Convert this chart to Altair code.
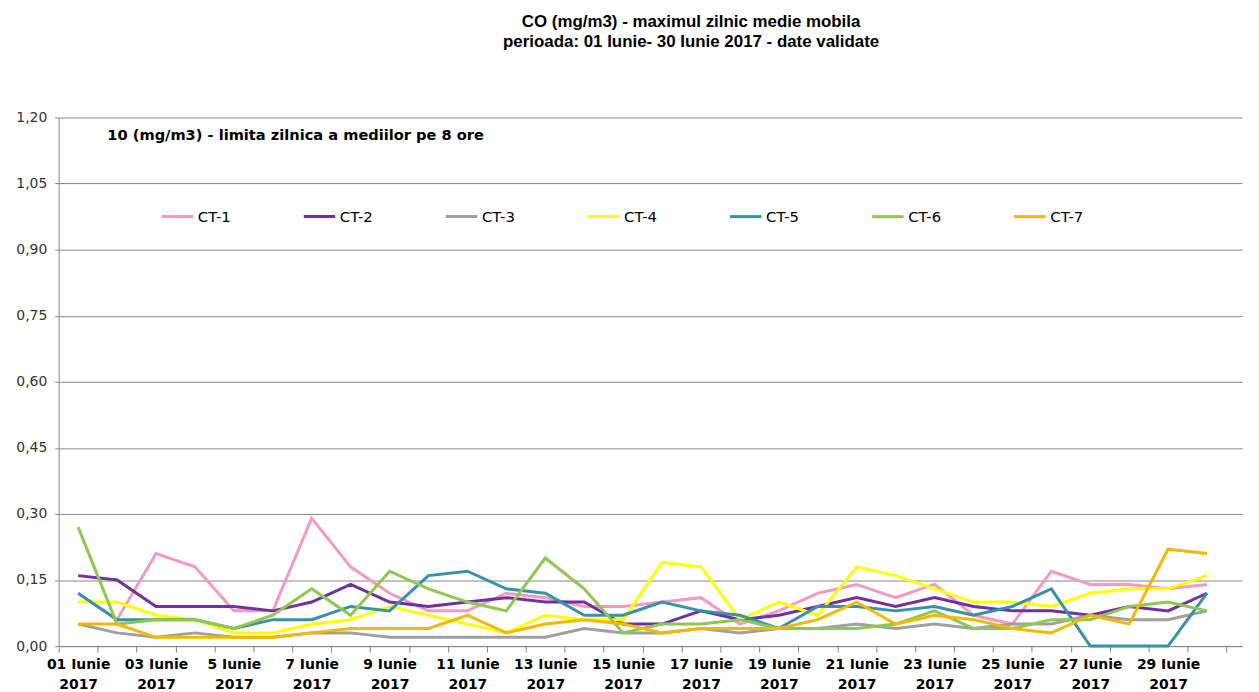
import altair as alt
import pandas as pd

days = list(range(1, 31))
tick_positions = [d - 0.5 for d in range(1, 32)]
series_names = ["CT-1", "CT-2", "CT-3", "CT-4", "CT-5", "CT-6", "CT-7"]
series_colors = ["#F49AC2", "#7030A0", "#A0A0A0", "#FFFF00", "#3592A8", "#8DC850", "#F5B800"]

ct1 = [0.12, 0.06, 0.21, 0.18, 0.08, 0.08, 0.29, 0.18, 0.12, 0.08, 0.08, 0.12, 0.11, 0.09, 0.09,
       0.10, 0.11, 0.05, 0.08, 0.12, 0.14, 0.11, 0.14, 0.07, 0.05, 0.17, 0.14, 0.14, 0.13, 0.14]
ct2 = [0.16, 0.15, 0.09, 0.09, 0.09, 0.08, 0.10, 0.14, 0.10, 0.09, 0.10, 0.11, 0.10, 0.10, 0.05,
       0.05, 0.08, 0.06, 0.07, 0.09, 0.11, 0.09, 0.11, 0.09, 0.08, 0.08, 0.07, 0.09, 0.08, 0.12]
ct3 = [0.05, 0.03, 0.02, 0.03, 0.02, 0.02, 0.03, 0.03, 0.02, 0.02, 0.02, 0.02, 0.02, 0.04, 0.03,
       0.03, 0.04, 0.03, 0.04, 0.04, 0.05, 0.04, 0.05, 0.04, 0.05, 0.05, 0.07, 0.06, 0.06, 0.08]
ct4 = [0.10, 0.10, 0.07, 0.06, 0.03, 0.03, 0.05, 0.06, 0.09, 0.07, 0.05, 0.03, 0.07, 0.06, 0.06,
       0.19, 0.18, 0.06, 0.10, 0.07, 0.18, 0.16, 0.13, 0.10, 0.10, 0.09, 0.12, 0.13, 0.13, 0.16]
ct5 = [0.12, 0.06, 0.06, 0.06, 0.04, 0.06, 0.06, 0.09, 0.08, 0.16, 0.17, 0.13, 0.12, 0.07, 0.07,
       0.10, 0.08, 0.07, 0.04, 0.09, 0.09, 0.08, 0.09, 0.07, 0.09, 0.13, 0.00, 0.00, 0.00, 0.12]
ct6 = [0.27, 0.05, 0.06, 0.06, 0.04, 0.07, 0.13, 0.07, 0.17, 0.13, 0.10, 0.08, 0.20, 0.13, 0.03,
       0.05, 0.05, 0.06, 0.04, 0.04, 0.04, 0.05, 0.08, 0.04, 0.04, 0.06, 0.06, 0.09, 0.10, 0.08]
ct7 = [0.05, 0.05, 0.02, 0.02, 0.02, 0.02, 0.03, 0.04, 0.04, 0.04, 0.07, 0.03, 0.05, 0.06, 0.05,
       0.03, 0.04, 0.04, 0.04, 0.06, 0.10, 0.05, 0.07, 0.06, 0.04, 0.03, 0.07, 0.05, 0.22, 0.21]

y_ticks = [0.0, 0.15, 0.30, 0.45, 0.60, 0.75, 0.90, 1.05, 1.20]
title_lines = ["CO (mg/m3) - maximul zilnic medie mobila",
               "perioada: 01 Iunie- 30 Iunie 2017 - date validate"]
note_text = ["10 (mg/m3) - limita zilnica a mediilor pe 8 ore"]

rows = []
for name, vals in zip(series_names, [ct1, ct2, ct3, ct4, ct5, ct6, ct7]):
    for d, v in zip(days, vals):
        rows.append({"day": d, "series": name, "value": v})
df = pd.DataFrame(rows)

grey = "#868686"
PLOT_W = 1191
X_MAX = 30.9
step_px = PLOT_W / (X_MAX - 0.5)

lines = alt.Chart(df).mark_line(strokeWidth=3).encode(
    x=alt.X(
        "day:Q",
        scale=alt.Scale(domain=[0.5, X_MAX], nice=False, zero=False),
        axis=alt.Axis(
            title=None,
            values=tick_positions,
            labelAngle=0,
            grid=False,
            labelOffset=step_px / 2,
            labelExpr="((datum.value + 0.5) % 2 == 1 && datum.value < 30) ? [((datum.value + 0.5) < 5 ? '0' : '') + (datum.value + 0.5) + ' Iunie', '2017'] : ''",
            labelFont="DejaVu Sans",
            labelFontSize=14,
            labelFontWeight="bold",
            labelColor="#000000",
            labelLineHeight=20,
            labelPadding=6,
            labelFlush=False,
            labelOverlap=False,
            labelBound=False,
            domainColor=grey,
            tickColor=grey,
            tickSize=6,
        ),
    ),
    y=alt.Y(
        "value:Q",
        scale=alt.Scale(domain=[0, 1.2], nice=False, zero=True),
        axis=alt.Axis(
            title=None,
            values=y_ticks,
            labelExpr="replace(format(datum.value, '.2f'), '.', ',')",
            labelFont="DejaVu Sans",
            labelFontSize=14,
            labelColor="#333333",
            grid=True,
            gridColor=grey,
            domainColor=grey,
            tickColor=grey,
            tickSize=4,
            labelPadding=8,
        ),
    ),
    color=alt.Color(
        "series:N",
        scale=alt.Scale(domain=series_names, range=series_colors),
        legend=alt.Legend(
            title=None,
            orient="none",
            legendX=102,
            legendY=82,
            direction="horizontal",
            symbolType="stroke",
            symbolSize=1000,
            symbolStrokeWidth=3,
            labelFont="DejaVu Sans",
            labelFontSize=15,
            labelColor="#000000",
            labelOffset=3,
            columnPadding=66,
        ),
    ),
    order=alt.Order("series:N"),
)

note = alt.Chart(pd.DataFrame({"t": note_text})).mark_text(
    align="left", baseline="middle", font="DejaVu Sans", fontSize=14.7,
    fontWeight="bold", color="#000000"
).encode(x=alt.value(49), y=alt.value(19), text="t:N")

chart = alt.layer(lines, note).properties(
    width=PLOT_W,
    height=532,
    padding={"left": 7, "top": 3, "right": 5, "bottom": 0},
    title=alt.TitleParams(
        text=title_lines,
        font="Liberation Sans",
        fontSize=17,
        fontWeight="bold",
        lineHeight=20,
        anchor="middle",
        dx=41,
        offset=60,
        color="#000000",
    ),
).configure_view(stroke=None)

chart.save("out.html", embed_options={"renderer": "svg", "actions": False})
